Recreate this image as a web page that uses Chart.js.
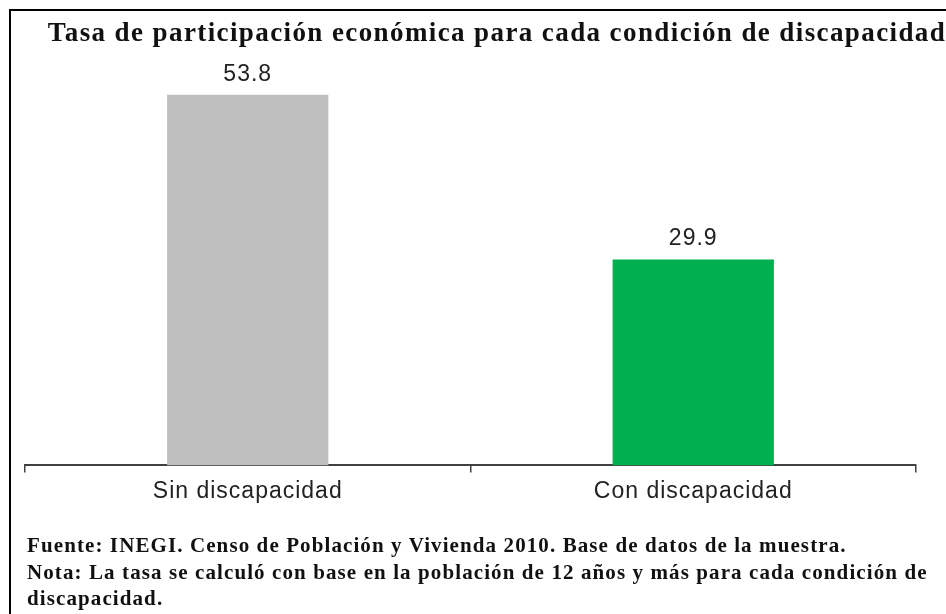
<!DOCTYPE html>
<html><head><meta charset="utf-8">
<script src="https://cdn.jsdelivr.net/npm/chart.js@4/dist/chart.umd.min.js"></script>
<style>
html,body{margin:0;padding:0;background:#fff;}
#wrap{position:relative;width:946px;height:614px;overflow:hidden;background:#fff;}
#frame{position:absolute;left:9px;top:9px;width:960px;height:700px;border-left:2px solid #000;border-top:2px solid #000;box-sizing:border-box;}
#box{position:absolute;left:0;top:0;width:946px;height:520px;}
#note{position:absolute;left:27px;top:532px;font:bold 21px "Liberation Serif",serif;letter-spacing:1.1px;line-height:26.5px;color:#111;white-space:nowrap;}
</style></head>
<body>
<div id="wrap">
<div id="box"><canvas id="c"></canvas></div>
<div id="frame"></div>
<div id="note">Fuente: INEGI. Censo de Población y Vivienda 2010. Base de datos de la muestra.<br>Nota: La tasa se calculó con base en la población de 12 años y más para cada condición de<br>discapacidad.</div>
</div>
<script>
const titleText = "Tasa de participación económica para cada condición de discapacidad";
const categories = ["Sin discapacidad", "Con discapacidad"];
const values = [53.8, 29.9];
const barColors = ["#BFBFBF", "#00B050"];

const overlay = {
  id: 'overlay',
  beforeDraw(chart) {
    chart.ctx.letterSpacing = '1px';
  },
  afterDraw(chart) {
    const ctx = chart.ctx;
    ctx.save();
    ctx.letterSpacing = '1.4px';
    ctx.fillStyle = '#111';
    ctx.font = 'bold 27px "Liberation Serif", serif';
    ctx.textAlign = 'center';
    ctx.textBaseline = 'alphabetic';
    ctx.fillText(titleText, 497, 41);
    ctx.restore();
    const meta = chart.getDatasetMeta(0);
    ctx.save();
    ctx.letterSpacing = '1px';
    ctx.fillStyle = '#222';
    ctx.font = '23px "Liberation Sans", Arial, sans-serif';
    ctx.textAlign = 'center';
    ctx.textBaseline = 'alphabetic';
    meta.data.forEach((bar, i) => {
      ctx.fillText(values[i].toFixed(1), bar.x, bar.y - 14);
    });
    ctx.restore();
  }
};

new Chart(document.getElementById('c'), {
  type: 'bar',
  data: {
    labels: categories,
    datasets: [{
      data: values,
      backgroundColor: barColors,
      borderWidth: 0,
      categoryPercentage: 1,
      barPercentage: 0.362
    }]
  },
  options: {
    responsive: true,
    maintainAspectRatio: false,
    animation: false,
    layout: { padding: { left: 25, right: 30, top: 52, bottom: 10 } },
    plugins: { legend: { display: false }, tooltip: { enabled: false }, title: { display: false } },
    scales: {
      y: { display: false, min: 0, max: 60 },
      x: {
        grid: { display: true, drawOnChartArea: false, drawTicks: true, tickLength: 7, color: '#404040', lineWidth: 1.5, offset: true },
        border: { display: true, color: '#404040', width: 2 },
        ticks: { color: '#222', padding: 5, font: { family: '"Liberation Sans", Arial, sans-serif', size: 23 } }
      }
    }
  },
  plugins: [overlay]
});
</script>
</body></html>
